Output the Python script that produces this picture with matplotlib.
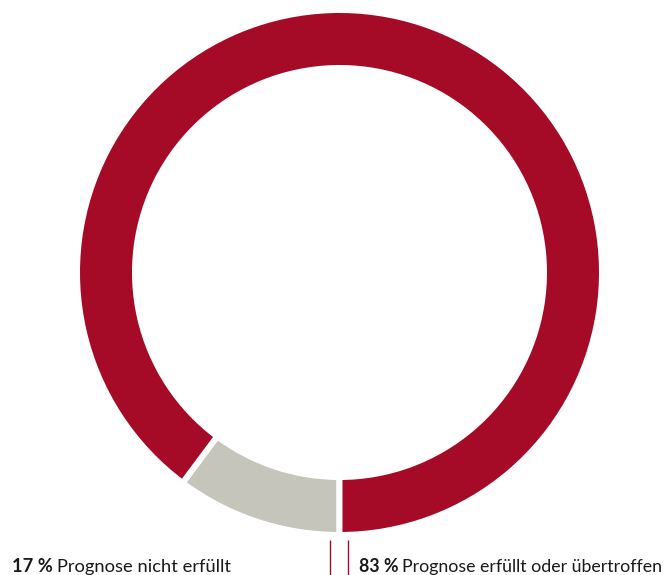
import matplotlib
matplotlib.use("Agg")
import matplotlib.pyplot as plt

categories = ["Prognose nicht erfüllt", "Prognose erfüllt oder übertroffen"]
label_values = ["17 %", "83 %"]
slice_shares = [10.2, 89.8]  # drawn proportions
colors = ["#C5C5BC", "#A50A26"]

W, H = 668, 575
fig = plt.figure(figsize=(W / 100, H / 100), dpi=100)
ax = fig.add_axes([0, 0, 1, 1])
gap = 6
ax.pie(slice_shares, colors=colors, startangle=270, counterclock=False,
       center=(339.5, H - 272.5), radius=259.5 + gap / 2,
       wedgeprops=dict(width=52 + gap, edgecolor="white", linewidth=gap * 0.72),
       frame=True)
ax.set_xlim(0, W)
ax.set_ylim(0, H)
ax.set_aspect("equal")
ax.axis("off")

# connector lines
for x in (329.5, 348):
    ax.plot([x, x], [0, H - 540], color="#A50A26", lw=1.0, solid_capstyle="butt")

fam = ["Lato", "DejaVu Sans"]
base = H - 572
txtcol = "#1a1a1a"
renderer = fig.canvas.get_renderer()


def label(x, val, cat, fs):
    t1 = ax.text(x, base, val, fontsize=fs, fontweight="bold", family=fam,
                 va="baseline", ha="left", color=txtcol)
    bb = t1.get_window_extent(renderer)
    t2 = ax.text(bb.x1 + 4, base, cat, fontsize=fs, family=fam,
                 va="baseline", ha="left", color=txtcol)
    return t1, t2


def fitted(x, val, cat, right):
    fs = 12.5
    t1, t2 = label(x, val, cat, fs)
    w = t2.get_window_extent(renderer).x1 - x
    t1.remove(); t2.remove()
    fs = fs * (right - x - 4) / (w - 4)
    label(x, val, cat, fs)


fitted(12, label_values[0], categories[0], 232)
fitted(359, label_values[1], categories[1], 663)

fig.savefig("out.png", dpi=100)
